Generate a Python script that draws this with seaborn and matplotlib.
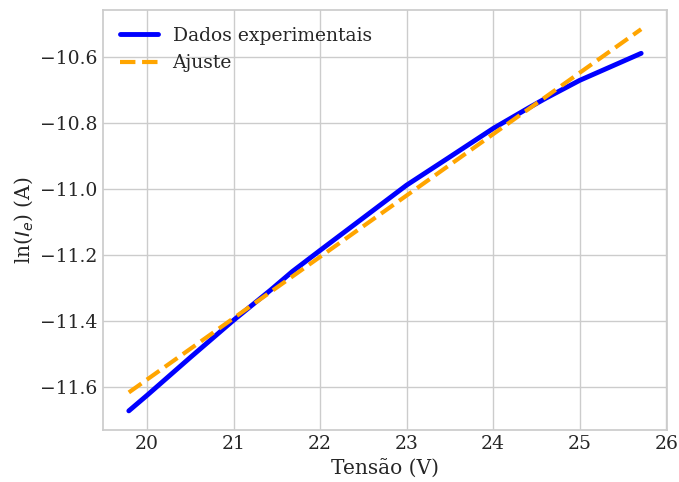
import matplotlib
matplotlib.use("Agg")
import matplotlib.pyplot as plt
import numpy as np
import pandas as pd
import seaborn as sns

# Measured emitter current (log) versus applied voltage
tensao = [19.79, 20.00, 20.50, 21.00, 21.43, 21.68, 22.00, 22.45, 23.00,
          23.49, 24.00, 24.42, 24.61, 25.00, 25.71]
ln_ie = [-11.673, -11.626, -11.511, -11.398, -11.306, -11.250, -11.186,
         -11.097, -10.988, -10.904, -10.816, -10.752, -10.724, -10.670,
         -10.588]

# Linear fit parameters: ln(I_e) = a*V + b
coef_a = 0.1862
coef_b = -15.302

sns.set_theme(style="whitegrid")
plt.rcParams["font.family"] = ["DejaVu Serif"]

dados = pd.DataFrame({"V": tensao, "lnI": ln_ie})
v_fit = np.array([min(tensao), max(tensao)])
ajuste = pd.DataFrame({"V": v_fit, "lnI": coef_a * v_fit + coef_b})

fig, ax = plt.subplots(figsize=(6.79, 4.82), dpi=100)
fig.subplots_adjust(left=0.152, right=0.982, top=0.979, bottom=0.108)

sns.lineplot(data=dados, x="V", y="lnI", ax=ax, color="blue", linewidth=3.5,
             label="Dados experimentais")
sns.lineplot(data=ajuste, x="V", y="lnI", ax=ax, color="orange", linewidth=3,
             linestyle="--", label="Ajuste")

ax.set_xlabel("Tensão (V)", fontsize=14.5, labelpad=4)
ax.set_ylabel(r"ln($I_e$) (A)", fontsize=14.5, labelpad=4)
ax.tick_params(labelsize=13.5, length=0, pad=4)
ax.legend(loc="upper left", fontsize=13.5, frameon=False)

fig.savefig("out.png", dpi=100)
